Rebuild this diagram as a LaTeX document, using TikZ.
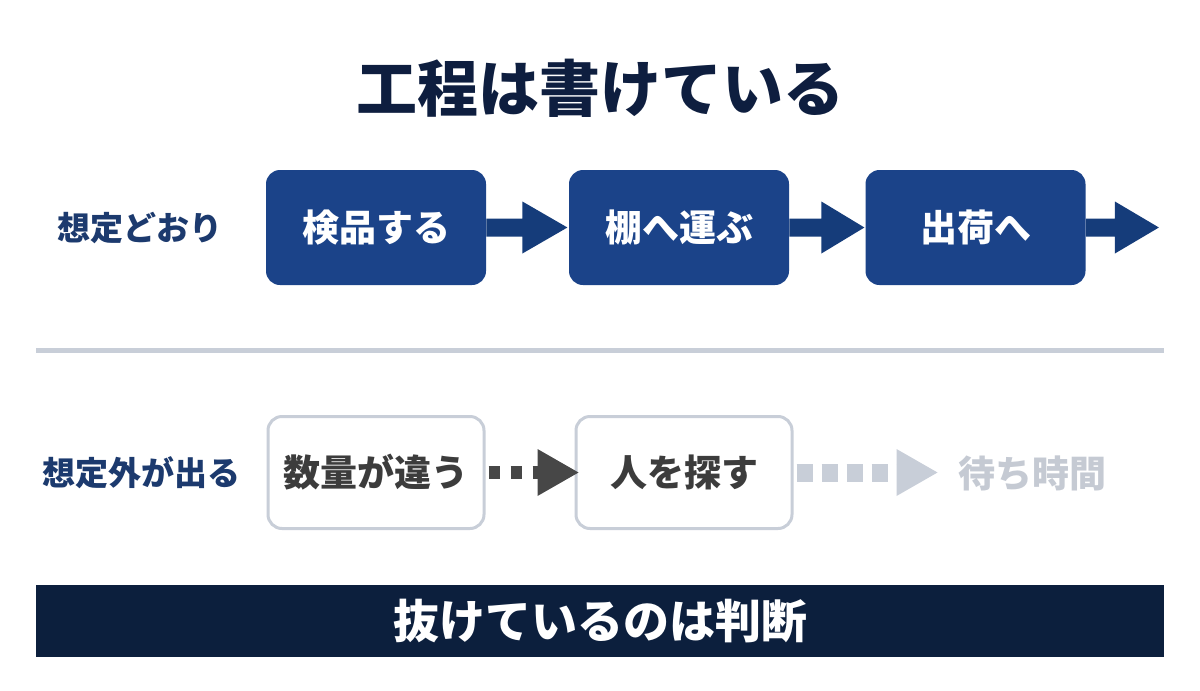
\documentclass[tikz,border=0pt]{standalone}
\usepackage{fontspec}
\setmainfont{Noto Sans CJK JP}
\definecolor{navy}{HTML}{0E1E3F}
\definecolor{lblue}{HTML}{1C3A6E}
\definecolor{boxblue}{HTML}{1B4389}
\definecolor{arrblue}{HTML}{153C7A}
\definecolor{barnavy}{HTML}{0C1F3D}
\definecolor{greyline}{HTML}{C8CED8}
\definecolor{darkgrey}{HTML}{3C3C3C}
\definecolor{arrgrey}{HTML}{474747}
\definecolor{paletxt}{HTML}{C5CAD3}
\tikzset{
  bluebox/.style={fill=boxblue, rounded corners=7pt, minimum width=110pt, minimum height=57.5pt, inner sep=0pt, text=white, font=\bfseries\fontsize{18.5pt}{22pt}\selectfont},
  whitebox/.style={draw=greyline, line width=1.5pt, fill=white, rounded corners=7pt, minimum width=108pt, minimum height=56pt, inner sep=0pt, text=darkgrey, font=\bfseries\fontsize{18.5pt}{22pt}\selectfont},
  rowlabel/.style={text=lblue, font=\bfseries\fontsize{16.5pt}{20pt}\selectfont, inner sep=0pt},
}
\begin{document}
\begin{tikzpicture}[x=0.5pt,y=-0.5pt]
\useasboundingbox[fill=white] (0,0) rectangle (1200,691);
% title
\node[text=navy, font=\bfseries\fontsize{30.5pt}{36pt}\selectfont, inner sep=0pt] (title) at (600,88) {工程は書けている};
% row 1
\node[rowlabel] (l1) at (140,228) {想定どおり};
\node[bluebox] (b1) at (376,227.5) {検品する};
\node[bluebox] (b2) at (679,227.5) {棚へ運ぶ};
\node[bluebox] (b3) at (975.5,227.5) {出荷へ};
\fill[arrblue] (b1.east) ++(0,-9) -- ++(36,0) -- ++(0,-17) -- ++(45,26) -- ++(-45,26) -- ++(0,-17) -- ++(-36,0) -- cycle;
\fill[arrblue] (b2.east) ++(0,-9) -- ++(32,0) -- ++(0,-17) -- ++(43,26) -- ++(-43,26) -- ++(0,-17) -- ++(-32,0) -- cycle;
\fill[arrblue] (b3.east) ++(0,-9) -- ++(29,0) -- ++(0,-17) -- ++(44,26) -- ++(-44,26) -- ++(0,-17) -- ++(-29,0) -- cycle;
% separator
\coordinate (s1) at (36,350.5);
\coordinate (s2) at (1164,350.5);
\draw[greyline, line width=2.5pt] (s1) -- (s2);
% row 2
\node[rowlabel] (l2) at (141,473) {想定外が出る};
\node[whitebox] (b4) at (376,472.5) {数量が違う};
\node[whitebox] (b5) at (684,472.5) {人を探す};
\node[text=paletxt, font=\bfseries\fontsize{18.5pt}{22pt}\selectfont, inner sep=0pt] (w) at (1032,473) {待ち時間};
% dotted arrow 1
\draw[arrgrey, line width=6.5pt, dash pattern=on 5.5pt off 5.5pt] ([xshift=1.5pt]b4.east) -- ++(50,0) coordinate (h1);
\fill[arrgrey] ([xshift=-0.5pt]h1) ++(0,-23.5) -- ++(41,23.5) -- ++(-41,23.5) -- cycle;
% dotted arrow 2
\draw[greyline, line width=9pt, dash pattern=on 8pt off 4.5pt] ([xshift=1.5pt]b5.east) -- ++(101,0) coordinate (h2);
\fill[greyline] ([xshift=-0.5pt]h2) ++(0,-23.5) -- ++(41,23.5) -- ++(-41,23.5) -- cycle;
% bottom bar
\node[fill=barnavy, minimum width=564pt, minimum height=36pt, inner sep=0pt, text=white, font=\bfseries\fontsize{23pt}{28pt}\selectfont] (bar) at (600,621) {抜けているのは判断};
\end{tikzpicture}
\end{document}
